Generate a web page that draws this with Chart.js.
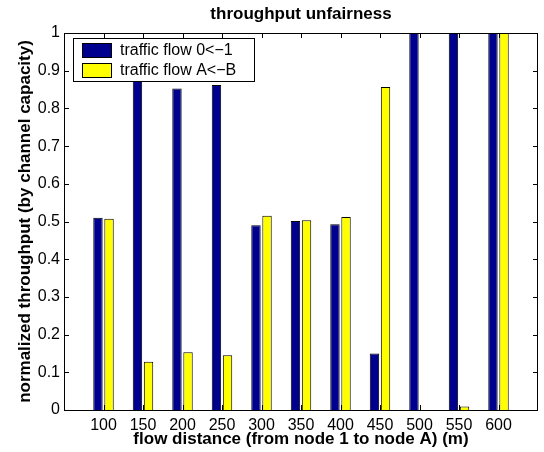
<!DOCTYPE html>
<html>
<head>
<meta charset="utf-8">
<script src="https://cdn.jsdelivr.net/npm/chart.js@4.4.1/dist/chart.umd.min.js"></script>
<style>
  html, body { margin: 0; padding: 0; background: #fff; }
  #wrap { width: 544px; height: 452px; }
</style>
</head>
<body>
<div id="wrap"><canvas id="chart" width="544" height="452"></canvas></div>
<script>
// dados
const distances = ['100', '150', '200', '250', '300', '350', '400', '450', '500', '550', '600'];
const flow01    = [0.510, 0.880, 0.853, 0.862, 0.490, 0.501, 0.493, 0.150, 1.000, 1.000, 1.000];
const flowAB    = [0.507, 0.128, 0.153, 0.145, 0.515, 0.503, 0.512, 0.857, 0.000, 0.009, 1.000];
const yTicks    = [0, 0.1, 0.2, 0.3, 0.4, 0.5, 0.6, 0.7, 0.8, 0.9, 1];

const FONT = '"Liberation Sans", Arial, Helvetica, sans-serif';

// categorias vazias nas pontas para o eixo ir de 50 a 650, como no MATLAB
const xLabels = ['', ...distances, ''];
const pad = arr => [null, ...arr, null];

// moldura + ticks para dentro (estilo MATLAB), título e legenda dentro do gráfico
const matlabFrame = {
  id: 'matlabFrame',
  afterDatasetsDraw(chart) {
    const { ctx, chartArea: a, scales: { x, y } } = chart;
    ctx.save();
    ctx.strokeStyle = '#000';
    ctx.lineWidth = 1;
    ctx.beginPath();
    ctx.rect(Math.round(a.left) + 0.5, Math.round(a.top) + 0.5,
      Math.round(a.right - a.left) - 1, Math.round(a.bottom - a.top));
    ctx.stroke();

    const tl = 5;
    ctx.beginPath();
    xLabels.forEach((lbl, i) => {
      if (!lbl) return;
      const px = Math.round(x.getPixelForValue(i)) + 0.5;
      ctx.moveTo(px, a.bottom); ctx.lineTo(px, a.bottom - tl);
      ctx.moveTo(px, a.top);    ctx.lineTo(px, a.top + tl);
    });
    yTicks.forEach(v => {
      const py = Math.round(y.getPixelForValue(v)) + 0.5;
      ctx.moveTo(a.left, py);  ctx.lineTo(a.left + tl, py);
      ctx.moveTo(a.right, py); ctx.lineTo(a.right - tl, py);
    });
    ctx.stroke();
    ctx.restore();
  },
  afterDraw(chart) {
    const { ctx, chartArea: a } = chart;
    ctx.save();
    // título centrado sobre a área do gráfico
    ctx.fillStyle = '#000';
    ctx.font = 'bold 17px ' + FONT;
    ctx.textAlign = 'center';
    ctx.textBaseline = 'middle';
    ctx.fillText('throughput unfairness', (a.left + a.right) / 2, 14);

    // legenda no canto superior esquerdo
    const bx = 73, by = 38, bw = 181, bh = 43;
    ctx.fillStyle = '#fff';
    ctx.fillRect(bx, by, bw, bh);
    ctx.strokeStyle = '#000';
    ctx.lineWidth = 1;
    ctx.strokeRect(bx + 0.5, by + 0.5, bw, bh);
    ctx.font = '16px ' + FONT;
    ctx.textAlign = 'left';
    chart.data.datasets.forEach((ds, i) => {
      const cy = by + 12 + i * 20;
      ctx.fillStyle = ds.backgroundColor;
      ctx.fillRect(bx + 9, cy - 7, 29, 14);
      ctx.strokeRect(bx + 9.5, cy - 6.5, 29, 14);
      ctx.fillStyle = '#000';
      ctx.fillText(ds.label, bx + 47, cy + 1);
    });
    ctx.restore();
  }
};

new Chart(document.getElementById('chart').getContext('2d'), {
  type: 'bar',
  data: {
    labels: xLabels,
    datasets: [
      { label: 'traffic flow 0<\u22121', data: pad(flow01),
        backgroundColor: '#00008F', borderColor: '#000', borderWidth: 1 },
      { label: 'traffic flow A<\u2212B', data: pad(flowAB),
        backgroundColor: '#FFFF00', borderColor: '#000', borderWidth: 1 },
    ]
  },
  options: {
    responsive: false,
    animation: false,
    devicePixelRatio: 1,
    categoryPercentage: 0.56,
    barPercentage: 0.85,
    layout: { padding: { top: 33, right: 2, left: 0, bottom: 0 } },
    plugins: { legend: { display: false }, title: { display: false }, tooltip: { enabled: false } },
    scales: {
      x: {
        type: 'category',
        offset: false,
        grid: { display: false, drawTicks: false },
        border: { display: false },
        ticks: { color: '#000', font: { family: FONT, size: 16 }, padding: 6, autoSkip: false, maxRotation: 0 },
        title: { display: true, text: 'flow distance (from node 1 to node A) (m)', color: '#000',
          font: { family: FONT, size: 17, weight: 'bold' }, padding: { top: 0, bottom: 2 } },
        afterFit(s) { s.height = 42; }
      },
      y: {
        min: 0, max: 1,
        grid: { display: false, drawTicks: false },
        border: { display: false },
        afterBuildTicks(s) { s.ticks = yTicks.map(v => ({ value: v })); },
        ticks: { color: '#000', font: { family: FONT, size: 16 }, padding: 4,
          callback: v => String(Math.round(v * 10) / 10) },
        title: { display: true, text: 'normalized throughput (by channel capacity)', color: '#000',
          font: { family: FONT, size: 17, weight: 'bold' }, padding: { top: 15, bottom: 0 } },
        afterFit(s) { s.width = 64; }
      }
    }
  },
  plugins: [matlabFrame]
});
</script>
</body>
</html>
